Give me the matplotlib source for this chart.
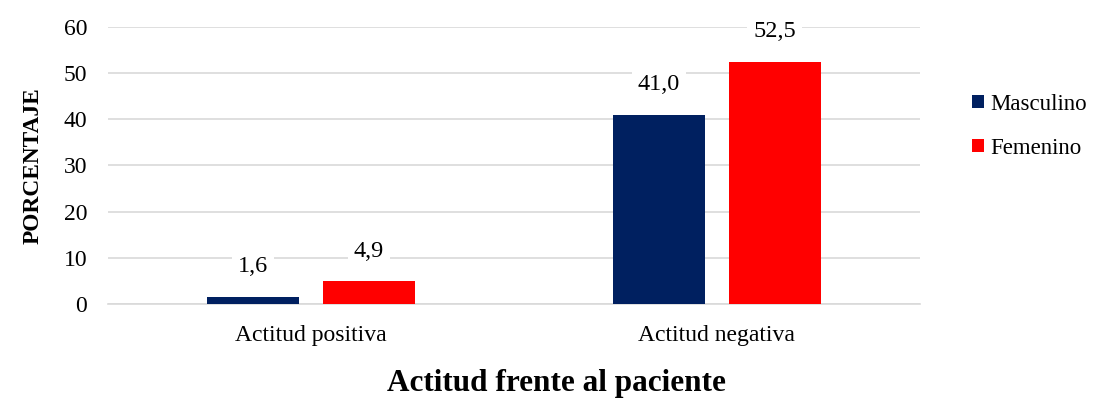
import matplotlib.pyplot as plt
import numpy as np

plt.rcParams['font.family'] = ['Liberation Serif', 'DejaVu Serif']

categorias = ['Actitud positiva', 'Actitud negativa']
masculino = [1.6, 41.0]
femenino = [4.9, 52.5]
etiquetas_y = [0, 10, 20, 30, 40, 50, 60]

azul = '#002060'
rojo = '#FF0000'

fig = plt.figure(figsize=(10.94, 4.01), dpi=100)
ax = fig.add_axes([0.0987, 0.242, 0.742, 0.691])

x = np.arange(len(categorias))
ancho = 0.227
sep = 0.143

b1 = ax.bar(x - sep, masculino, ancho, color=azul, label='Masculino', zorder=3)
b2 = ax.bar(x + sep, femenino, ancho, color=rojo, label='Femenino', zorder=3)

# etiquetas de datos con coma decimal
for barras, vals in ((b1, masculino), (b2, femenino)):
    for b, v in zip(barras, vals):
        ax.annotate(f'{v:.1f}'.replace('.', ','),
                    (b.get_x() + b.get_width() / 2, v),
                    xytext=(0, 14), textcoords='offset points',
                    ha='center', va='bottom', fontsize=17.5, zorder=4,
                    bbox=dict(boxstyle='square,pad=0.25', fc='white', ec='none'))

ax.set_xlim(-0.5, 1.5)
ax.set_ylim(0, 60)
ax.set_yticks(etiquetas_y)
ax.set_xticks(x)
ax.set_xticklabels(categorias)
ax.tick_params(axis='both', length=0, labelsize=17)
ax.tick_params(axis='x', pad=15)
ax.tick_params(axis='y', pad=15)
ax.grid(axis='y', color='#d9d9d9', linewidth=1.2, zorder=0)
for s in ['top', 'right', 'left']:
    ax.spines[s].set_visible(False)
ax.spines['bottom'].set_color('#d9d9d9')
ax.spines['bottom'].set_linewidth(1.2)

ax.set_ylabel('PORCENTAJE', fontsize=16.8, fontweight='bold', labelpad=14)
ax.set_xlabel('Actitud frente al paciente', fontsize=22.5, fontweight='bold')
ax.xaxis.set_label_coords(0.552, -0.235)

fig.legend(loc='center left', bbox_to_anchor=(0.87, 0.685), frameon=False,
           fontsize=16.5, handlelength=0.5, handleheight=0.5, handletextpad=0.3,
           labelspacing=1.0)

fig.savefig('out.png', dpi=100)
